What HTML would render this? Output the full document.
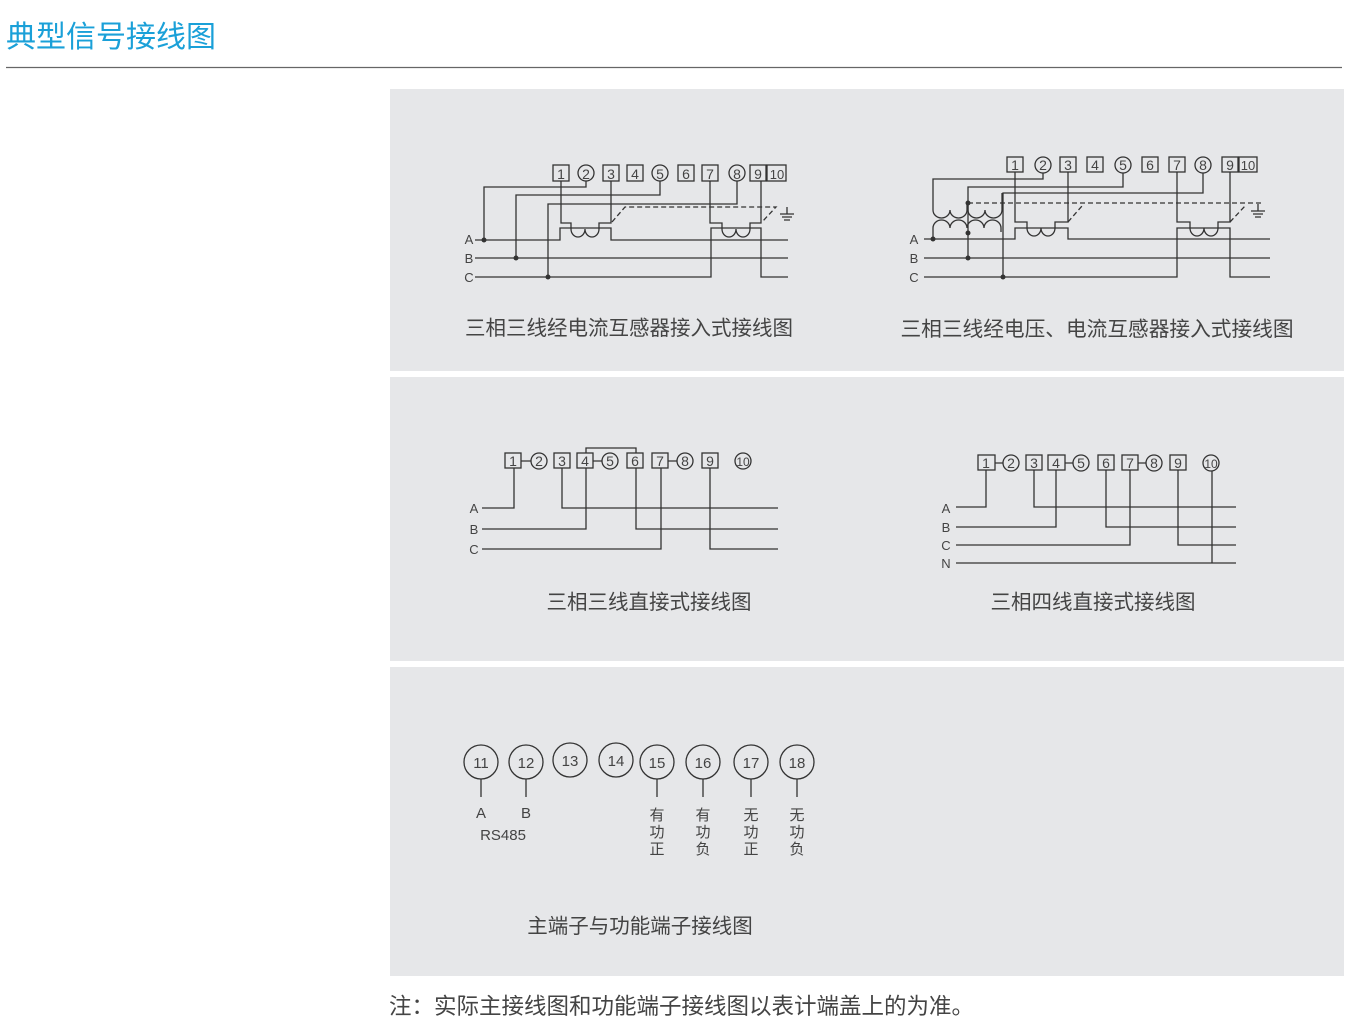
<!DOCTYPE html>
<html><head><meta charset="utf-8"><style>
body{margin:0;background:#fff;width:1350px;height:1030px;overflow:hidden}
svg{display:block}
.t{font-family:"Liberation Sans","Noto Sans CJK SC",sans-serif}
</style></head><body>
<svg width="1350" height="1030" viewBox="0 0 1350 1030" xmlns="http://www.w3.org/2000/svg" class="t">
<text x="6" y="47" font-size="30" fill="#1aa0d8">典型信号接线图</text>
<line x1="6" y1="67.5" x2="1342" y2="67.5" stroke="#666" stroke-width="1.3"/>
<rect x="390" y="89" width="954" height="282" fill="#e6e7e9"/>
<rect x="390" y="377" width="954" height="284" fill="#e6e7e9"/>
<rect x="390" y="667" width="954" height="309" fill="#e6e7e9"/>

<g fill="none" stroke="#333" stroke-width="1.3">
<rect x="553" y="165" width="16" height="16"/><circle cx="586" cy="173" r="8"/>
<rect x="603" y="165" width="16" height="16"/><rect x="627" y="165" width="16" height="16"/>
<circle cx="660" cy="173" r="8"/><rect x="678" y="165" width="16" height="16"/>
<rect x="702" y="165" width="16" height="16"/><circle cx="737" cy="173" r="8"/>
<rect x="750" y="165" width="16" height="16"/><rect x="767" y="165" width="19" height="16"/>
<path d="M586,181 V187 H484 V240"/><path d="M660,181 V195 H516 V258"/><path d="M737,181 V204 H548 V277"/>
<path d="M475,240 H560 V228 H611 V240 H788"/><path d="M475,258 H788"/><path d="M475,277 H711 V228 H761 V277 H788"/>
<path d="M561,181 V223 H571 V229 a7,8 0 0 0 14,0 a7,8 0 0 0 14,0 V223 H611 V181"/>
<path d="M710,181 V223 H722 V229 a7,8 0 0 0 14,0 a7,8 0 0 0 14,0 V223 H761 V181"/>
<path d="M612,222 L625,207 H776 L762,222" stroke-dasharray="5,3"/>
<path d="M787,207 V214 M780,214 H794 M782,217 H792 M784,220 H790"/>

<rect x="1007" y="157" width="16" height="15"/><circle cx="1043" cy="165" r="8"/>
<rect x="1060" y="157" width="16" height="15"/><rect x="1087" y="157" width="16" height="15"/>
<circle cx="1123" cy="165" r="8"/><rect x="1142" y="157" width="16" height="15"/>
<rect x="1169" y="157" width="16" height="15"/><circle cx="1203" cy="165" r="8"/>
<rect x="1222" y="157" width="16" height="15"/><rect x="1239" y="157" width="18" height="15"/>
<path d="M1043,173 V179 H933 V210 a8.5,8 0 0 0 17,0 a8.5,8 0 0 0 17,0 V203"/>
<path d="M968,203 V210 a8.5,8 0 0 0 17,0 a8.5,8 0 0 0 17,0 V193"/>
<path d="M933,240 V228 a8.5,8 0 0 1 17,0 a8.5,8 0 0 1 17,0 a8.5,8 0 0 1 17,0 a8.5,8 0 0 1 17,0 V232"/>
<path d="M1123,173 V187 H968 V258"/><path d="M1203,173 V193 H1003 V277"/>
<path d="M924,239 H1015 V228 H1068 V239 H1270"/><path d="M924,258 H1270"/><path d="M924,277 H1177 V228 H1230 V277 H1270"/>
<path d="M1015,172 V222 H1027 V228 a7,8 0 0 0 14,0 a7,8 0 0 0 14,0 V222 H1068 V172"/>
<path d="M1177,172 V222 H1190 V228 a7,8 0 0 0 14,0 a7,8 0 0 0 14,0 V222 H1230 V172"/>
<path d="M968,203 H1262" stroke-dasharray="5,3"/>
<path d="M1068,222 L1082,206 M1230,222 L1245,206" stroke-dasharray="5,3"/>
<path d="M1258,204 V211 M1251,211 H1265 M1253,214 H1263 M1255,217 H1261"/>

<rect x="505" y="453" width="16" height="15"/><circle cx="539" cy="461" r="8"/>
<rect x="554" y="453" width="16" height="15"/><rect x="577" y="453" width="16" height="15"/>
<circle cx="610" cy="461" r="8"/><rect x="627" y="453" width="16" height="15"/>
<rect x="652" y="453" width="16" height="15"/><circle cx="685" cy="461" r="8"/>
<rect x="702" y="453" width="16" height="15"/><circle cx="743" cy="461" r="8"/>
<path d="M521,461 H531 M593,461 H602 M668,461 H677"/>
<path d="M586,453 V448 H636 V453"/>
<path d="M482,508 H514 V468"/><path d="M562,468 V508 H778"/><path d="M586,468 V529 H482"/>
<path d="M636,468 V529 H778"/><path d="M661,468 V549 H482"/><path d="M710,468 V549 H778"/>

<rect x="978" y="455" width="17" height="15"/><circle cx="1011" cy="463" r="8"/>
<rect x="1026" y="455" width="16" height="15"/><rect x="1048" y="455" width="17" height="15"/>
<circle cx="1081" cy="463" r="8"/><rect x="1098" y="455" width="16" height="15"/>
<rect x="1122" y="455" width="16" height="15"/><circle cx="1154" cy="463" r="8"/>
<rect x="1170" y="455" width="16" height="15"/><circle cx="1211" cy="463" r="8"/>
<path d="M995,463 H1003 M1065,463 H1073 M1138,463 H1146"/>
<path d="M956,507 H986 V470"/><path d="M1034,470 V507 H1236"/><path d="M1056,470 V527 H956"/>
<path d="M1106,470 V527 H1236"/><path d="M1130,470 V545 H956"/><path d="M1178,470 V545 H1236"/>
<path d="M1212,471 V563"/><path d="M956,563 H1236"/>

<circle cx="481" cy="762" r="17"/><circle cx="526" cy="762" r="17"/><circle cx="570" cy="760" r="17"/>
<circle cx="616" cy="760" r="17"/><circle cx="657" cy="762" r="17"/><circle cx="703" cy="762" r="17"/>
<circle cx="751" cy="762" r="17"/><circle cx="797" cy="762" r="17"/>
<path d="M481,779 V797 M526,779 V797 M657,779 V797 M703,779 V797 M751,779 V797 M797,779 V797"/>
</g>
<g fill="#333">
<circle cx="484" cy="240" r="2.5"/><circle cx="516" cy="258" r="2.5"/><circle cx="548" cy="277" r="2.5"/>
<circle cx="933" cy="239" r="2.5"/><circle cx="968" cy="203" r="2.5"/><circle cx="968" cy="233" r="2.5"/>
<circle cx="968" cy="258" r="2.5"/><circle cx="1003" cy="277" r="2.5"/>
</g>
<g font-size="14" fill="#444" text-anchor="middle">
<text x="561" y="179">1</text><text x="586" y="179">2</text><text x="611" y="179">3</text><text x="635" y="179">4</text><text x="660" y="179">5</text><text x="686" y="179">6</text><text x="710" y="179">7</text><text x="737" y="179">8</text><text x="758" y="179">9</text><text x="777" y="179" font-size="13">10</text>
<text x="1015" y="170">1</text><text x="1043" y="170">2</text><text x="1068" y="170">3</text><text x="1095" y="170">4</text><text x="1123" y="170">5</text><text x="1150" y="170">6</text><text x="1177" y="170">7</text><text x="1203" y="170">8</text><text x="1230" y="170">9</text><text x="1248" y="170" font-size="13">10</text>
<text x="513" y="466">1</text><text x="539" y="466">2</text><text x="562" y="466">3</text><text x="585" y="466">4</text><text x="610" y="466">5</text><text x="635" y="466">6</text><text x="660" y="466">7</text><text x="685" y="466">8</text><text x="710" y="466">9</text><text x="743" y="466" font-size="12">10</text>
<text x="986" y="468">1</text><text x="1011" y="468">2</text><text x="1034" y="468">3</text><text x="1056" y="468">4</text><text x="1081" y="468">5</text><text x="1106" y="468">6</text><text x="1130" y="468">7</text><text x="1154" y="468">8</text><text x="1178" y="468">9</text><text x="1211" y="468" font-size="12">10</text>
<text x="481" y="768" font-size="15">11</text><text x="526" y="768" font-size="15">12</text><text x="570" y="766" font-size="15">13</text><text x="616" y="766" font-size="15">14</text><text x="657" y="768" font-size="15">15</text><text x="703" y="768" font-size="15">16</text><text x="751" y="768" font-size="15">17</text><text x="797" y="768" font-size="15">18</text>
</g>
<g font-size="13" fill="#444" text-anchor="middle">
<text x="469" y="244">A</text><text x="469" y="263">B</text><text x="469" y="282">C</text>
<text x="914" y="244">A</text><text x="914" y="263">B</text><text x="914" y="282">C</text>
<text x="474" y="513">A</text><text x="474" y="534">B</text><text x="474" y="554">C</text>
<text x="946" y="513">A</text><text x="946" y="532">B</text><text x="946" y="550">C</text><text x="946" y="568">N</text>
<text x="481" y="818" font-size="15">A</text><text x="526" y="818" font-size="15">B</text><text x="503" y="840" font-size="15">RS485</text>
</g>
<g font-size="15" fill="#444" text-anchor="middle">
<text x="657" y="820">有</text><text x="657" y="837">功</text><text x="657" y="854">正</text>
<text x="703" y="820">有</text><text x="703" y="837">功</text><text x="703" y="854">负</text>
<text x="751" y="820">无</text><text x="751" y="837">功</text><text x="751" y="854">正</text>
<text x="797" y="820">无</text><text x="797" y="837">功</text><text x="797" y="854">负</text>
</g>
<g font-size="20.5" fill="#444" text-anchor="middle">
<text x="629" y="335">三相三线经电流互感器接入式接线图</text>
<text x="1097" y="336" font-size="20.7">三相三线经电压、电流互感器接入式接线图</text>
<text x="649" y="609">三相三线直接式接线图</text>
<text x="1093" y="609">三相四线直接式接线图</text>
<text x="640" y="933">主端子与功能端子接线图</text>
</g>
<text x="389" y="1014" font-size="22.5" fill="#444">注：实际主接线图和功能端子接线图以表计端盖上的为准。</text>
</svg>
</body></html>
